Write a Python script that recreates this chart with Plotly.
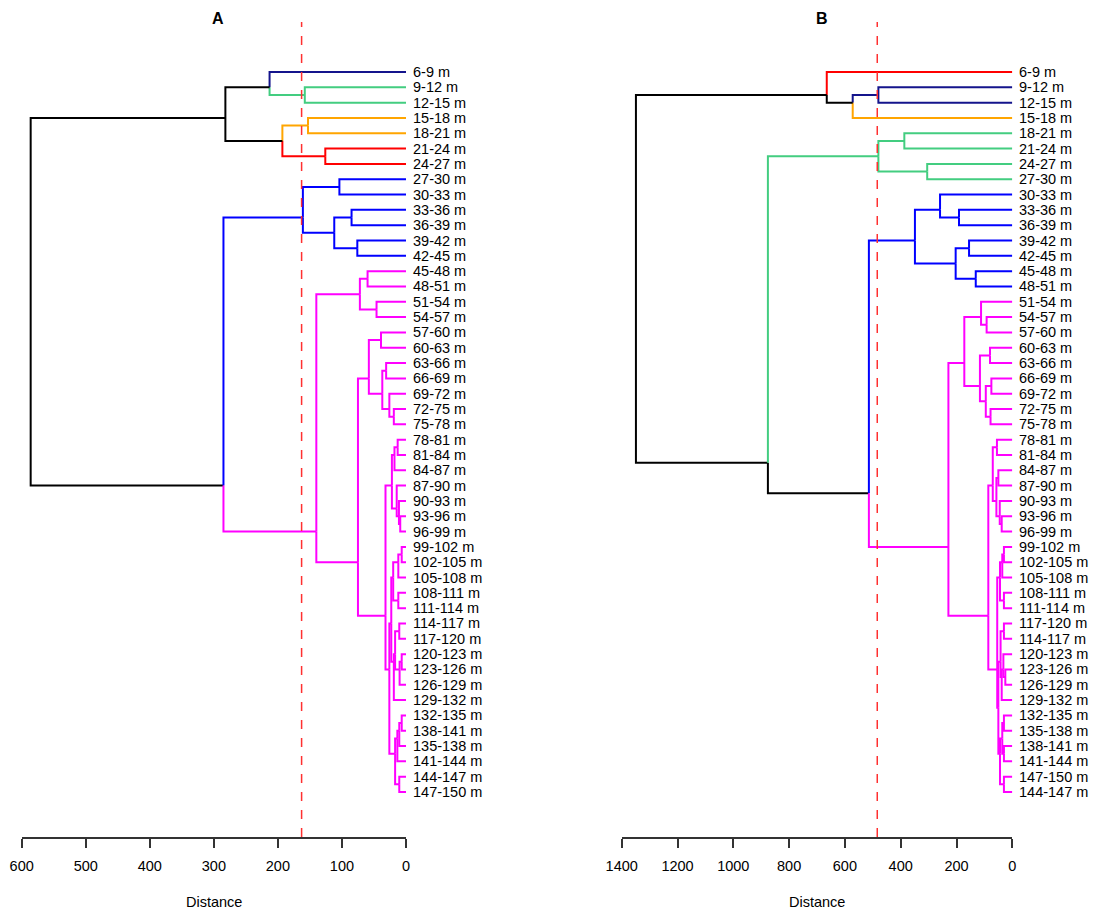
import plotly.graph_objects as go

# ---------------- data ----------------
labels_A = ["6-9 m", "9-12 m", "12-15 m", "15-18 m", "18-21 m", "21-24 m", "24-27 m",
            "27-30 m", "30-33 m", "33-36 m", "36-39 m", "39-42 m", "42-45 m", "45-48 m",
            "48-51 m", "51-54 m", "54-57 m", "57-60 m", "60-63 m", "63-66 m", "66-69 m",
            "69-72 m", "72-75 m", "75-78 m", "78-81 m", "81-84 m", "84-87 m", "87-90 m",
            "90-93 m", "93-96 m", "96-99 m", "99-102 m", "102-105 m", "105-108 m",
            "108-111 m", "111-114 m", "114-117 m", "117-120 m", "120-123 m", "123-126 m",
            "126-129 m", "129-132 m", "132-135 m", "138-141 m", "135-138 m", "141-144 m",
            "144-147 m", "147-150 m"]
labels_B = ["6-9 m", "9-12 m", "12-15 m", "15-18 m", "18-21 m", "21-24 m", "24-27 m",
            "27-30 m", "30-33 m", "33-36 m", "36-39 m", "39-42 m", "42-45 m", "45-48 m",
            "48-51 m", "51-54 m", "54-57 m", "57-60 m", "60-63 m", "63-66 m", "66-69 m",
            "69-72 m", "72-75 m", "75-78 m", "78-81 m", "81-84 m", "84-87 m", "87-90 m",
            "90-93 m", "93-96 m", "96-99 m", "99-102 m", "102-105 m", "105-108 m",
            "108-111 m", "111-114 m", "117-120 m", "114-117 m", "120-123 m", "123-126 m",
            "126-129 m", "129-132 m", "132-135 m", "135-138 m", "138-141 m", "141-144 m",
            "147-150 m", "144-147 m"]

# merge trees for panel A: (left, right, height); integers are leaf positions
A_top = ((0, (1, 2, 158), 213), ((3, 4, 153), (5, 6, 126), 193), 282)
A_blue = ((7, 8, 104), ((9, 10, 85), (11, 12, 76), 112), 161)
A_m1 = ((13, 14, 60), (15, 16, 46), 72)
A_m2a = ((17, 18, 39), ((19, 20, 31), (21, (22, 23, 19), 26), 37), 58)
A_m2b1 = (((24, 25, 13), 26, 18), (27, (28, (29, 30, 9), 11), 14.5), 22)
A_g12 = (((31, 32, 6.7), 33, 12), (34, 35, 12), 20)
A_g345 = (((36, 37, 10.5), ((38, 39, 6.7), 40, 10), 17), 41, 19)
A_glow2 = ((((42, 43, 6.7), 44, 10.5), 45, 13.5), (46, 47, 10.5), 17)
A_m2b2 = ((A_g12, A_g345, 23), A_glow2, 26)
A_mag = (A_m1, ((A_m2a, (A_m2b1, A_m2b2, 32), 75)), 140)
tree_A = (A_top, (A_blue, A_mag, 285), 586)

# merge trees for panel B
B_top = (0, ((1, 2, 480), 3, 572), 665)
B_green = ((4, 5, 387), (6, 7, 305), 480)
B_blue = ((8, (9, 10, 191), 259), ((11, 12, 155), (13, 14, 131), 203), 349)
B_m1 = ((15, (16, 17, 92), 112), ((18, 19, 80), ((20, 21, 75), (22, 23, 78), 95), 116), 172)
B_m2a = ((24, 25, 55), ((26, 27, 50), (28, (29, 30, 38), 45), 57), 70)
B_m2b1 = (((31, 32, 30), 33, 36), (34, 35, 30), 44)
B_m2b2 = (((36, 37, 30), ((38, (39, 40, 25), 32), 41, 38), 42),
          (((42, 43, 30), (44, 45, 30), 36), (46, 47, 30), 44), 50)
B_mag = (B_m1, (B_m2a, (B_m2b1, B_m2b2, 54), 86), 229)
tree_B = (B_top, (B_green, (B_blue, B_mag, 514), 876), 1349)

# clusters (consecutive leaves) and their colours
cluster_sizes_A = [1, 2, 2, 2, 6, 35]
cluster_colors_A = ["#14148c", "#43CD80", "#FFA500", "#FF0000", "#0000FF", "#FF00FF"]
cluster_sizes_B = [1, 2, 1, 4, 7, 33]
cluster_colors_B = ["#FF0000", "#14148c", "#FFA500", "#43CD80", "#0000FF", "#FF00FF"]

cut_A = 163
cut_B = 484
ticks_A = [0, 100, 200, 300, 400, 500, 600]
ticks_B = [0, 200, 400, 600, 800, 1000, 1200, 1400]
panel_titles = ["A", "B"]
axis_title = "Distance"

# ---------------- geometry helpers ----------------
W, H = 1098, 910
plot_top, plot_bot = 22, 837
leaf0_px, leafN_px = 72, 792


def leaf_colors(sizes, colors):
    out = []
    for s, c in zip(sizes, colors):
        out += [c] * s
    return out


def build_segments(tree, lcols):
    segs = {}

    def add(col, xs, ys):
        d = segs.setdefault(col, ([], []))
        d[0].extend(xs + [None])
        d[1].extend(ys + [None])

    def walk(node):
        if isinstance(node, int):
            return node, node, node, 0.0, lcols[node]
        l, r, h = node
        kids = [walk(l), walk(r)]
        lo = min(k[0] for k in kids)
        hi = max(k[1] for k in kids)
        y = (lo + hi) / 2.0
        for klo, khi, ky, kh, kc in kids:
            col = kc if kc is not None else "#000000"
            add(col, [h, h, kh], [y, ky, ky])
        c = kids[0][4] if (kids[0][4] is not None and kids[0][4] == kids[1][4]) else None
        return lo, hi, y, h, c

    walk(tree)
    return segs


fig = go.Figure()

n_leaves = len(labels_A)
px_per = (leafN_px - leaf0_px) / (n_leaves - 1)
y_top = 0 - (leaf0_px - plot_top) / px_per
y_bot = (n_leaves - 1) + (plot_bot - leafN_px) / px_per
ydom = [1 - plot_bot / H, 1 - plot_top / H]

panels = [
    dict(tree=tree_A, labels=labels_A, sizes=cluster_sizes_A, colors=cluster_colors_A,
         cut=cut_A, ticks=ticks_A, xpx=(21.7, 406.0), xa="x", ya="y", title_x=218),
    dict(tree=tree_B, labels=labels_B, sizes=cluster_sizes_B, colors=cluster_colors_B,
         cut=cut_B, ticks=ticks_B, xpx=(621.7, 1012.3), xa="x2", ya="y2", title_x=822),
]

font_family = "Liberation Sans, Arial, sans-serif"
annotations = []
shapes = []
for i, p in enumerate(panels):
    lcols = leaf_colors(p["sizes"], p["colors"])
    segs = build_segments(p["tree"], lcols)
    for col, (xs, ys) in segs.items():
        fig.add_trace(go.Scatter(x=xs, y=ys, mode="lines", xaxis=p["xa"], yaxis=p["ya"],
                                 line=dict(color=col, width=2), hoverinfo="skip",
                                 showlegend=False))
    for j, lab in enumerate(p["labels"]):
        annotations.append(dict(x=0, y=j, xref=p["xa"], yref=p["ya"], text=lab,
                                showarrow=False, xanchor="left", yanchor="middle", xshift=5,
                                font=dict(family=font_family, size=14.5, color="#000000")))
    suffix = "" if i == 0 else "2"
    shapes.append(dict(type="line", xref=p["xa"], yref="y%s domain" % suffix,
                       x0=p["cut"], x1=p["cut"], y0=0, y1=1,
                       line=dict(color="#FF3030", width=1.5, dash="dash")))
    annotations.append(dict(x=p["title_x"] / W, y=1 - 18 / H, xref="paper", yref="paper",
                            text="<b>%s</b>" % panel_titles[i], showarrow=False,
                            xanchor="center", yanchor="middle",
                            font=dict(family=font_family, size=16, color="#000000")))
    annotations.append(dict(x=(p["xpx"][0] + p["xpx"][1]) / 2 / W, y=1 - 902 / H,
                            xref="paper", yref="paper", text=axis_title, showarrow=False,
                            xanchor="center", yanchor="middle",
                            font=dict(family=font_family, size=14.5, color="#000000")))

xaxis_common = dict(showgrid=False, zeroline=False, showline=True, linecolor="#333333",
                    linewidth=1.5, ticks="outside", ticklen=9, tickwidth=1.5,
                    tickcolor="#333333", ticklabelstandoff=6, automargin=False,
                    tickfont=dict(family=font_family, size=14.5, color="#000000"))
yaxis_common = dict(showgrid=False, zeroline=False, showline=False, showticklabels=False,
                    ticks="", range=[y_bot, y_top], domain=ydom, automargin=False)

fig.update_layout(
    width=W, height=H, margin=dict(l=0, r=0, t=0, b=0, pad=0, autoexpand=False),
    paper_bgcolor="white", plot_bgcolor="white", showlegend=False,
    xaxis=dict(xaxis_common, range=[max(ticks_A), 0], tickvals=ticks_A,
               domain=[panels[0]["xpx"][0] / W, panels[0]["xpx"][1] / W], anchor="y"),
    yaxis=dict(yaxis_common, anchor="x"),
    xaxis2=dict(xaxis_common, range=[max(ticks_B), 0], tickvals=ticks_B,
                domain=[panels[1]["xpx"][0] / W, panels[1]["xpx"][1] / W], anchor="y2"),
    yaxis2=dict(yaxis_common, anchor="x2"),
    annotations=annotations, shapes=shapes,
)

fig.write_html("out.html", config={"displayModeBar": False},
               post_script="document.body.style.margin='0';")
